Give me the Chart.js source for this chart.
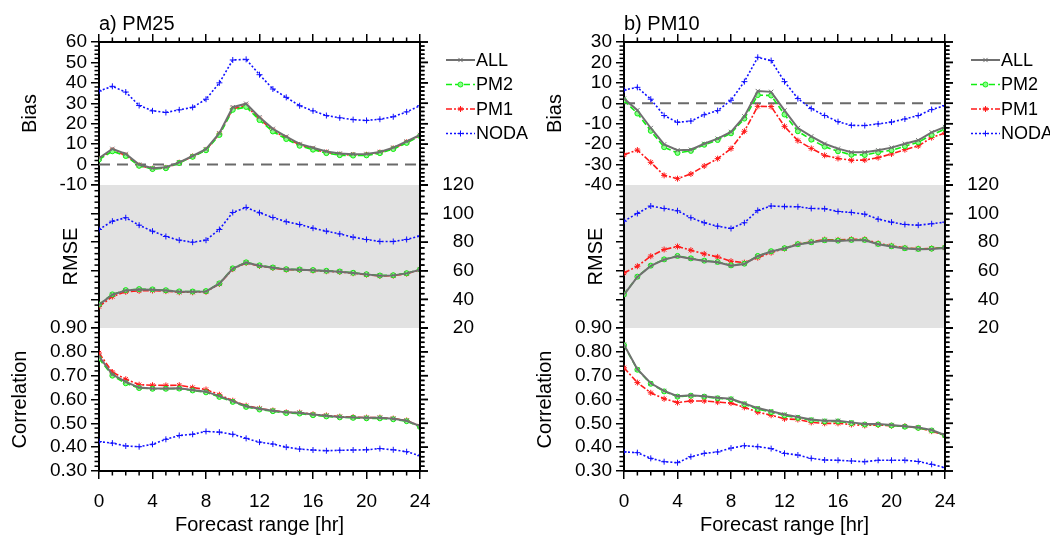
<!DOCTYPE html>
<html>
<head>
<meta charset="utf-8">
<script src="https://cdn.jsdelivr.net/npm/chart.js@4.4.0/dist/chart.umd.min.js"></script>
<style>
  html, body { margin: 0; padding: 0; background: #fff; }
  #wrap { position: relative; width: 1050px; height: 540px; overflow: hidden; }
  canvas { position: absolute; top: 0; }
  #pa, #paf { left: 0; }
  #pb, #pbf { left: 525px; }
  #paf, #pbf { z-index: 2; pointer-events: none; }
</style>
</head>
<body>
<div id="wrap">
  <canvas id="pa" width="540" height="540"></canvas>
  <canvas id="pb" width="525" height="540"></canvas>
  <canvas id="paf" width="540" height="540"></canvas>
  <canvas id="pbf" width="525" height="540"></canvas>
</div>
<script>
/* forecast hours */
const HOURS = [0, 1, 2, 3, 4, 5, 6, 7, 8, 9, 10, 11, 12, 13, 14, 15, 16, 17, 18, 19, 20, 21, 22, 23, 24];
const SERIES = ['ALL', 'PM2', 'PM1', 'NODA'];

/* a) PM25 */
const PM25_BIAS_ALL  = [3.1, 7.7, 5.2, 0.0, -1.8, -1.3, 1.1, 4.2, 7.5, 15.4, 28.1, 29.8, 23.2, 17.5, 13.7, 10.1, 8.2, 6.4, 5.4, 5.1, 5.2, 6.2, 8.3, 11.3, 14.5];
const PM25_BIAS_PM2  = [2.5, 6.5, 4.2, -0.6, -2.2, -1.8, 0.8, 3.8, 7.0, 14.5, 26.8, 28.2, 21.8, 16.2, 12.5, 9.2, 7.3, 5.6, 4.6, 4.4, 4.5, 5.6, 7.6, 10.6, 14.0];
const PM25_BIAS_PM1  = [2.8, 6.9, 4.5, -0.4, -2.0, -1.6, 0.9, 4.0, 7.2, 15.0, 27.3, 28.8, 22.4, 16.7, 13.0, 9.6, 7.6, 5.9, 4.9, 4.7, 4.8, 5.9, 7.9, 10.9, 14.3];
const PM25_BIAS_NODA = [36.0, 38.3, 35.5, 28.9, 26.3, 25.5, 26.8, 28.0, 32.0, 40.0, 51.2, 51.5, 44.0, 37.0, 32.9, 28.8, 26.3, 24.0, 22.9, 22.0, 21.6, 22.2, 23.4, 25.8, 28.8];

const PM25_RMSE_ALL  = [36.3, 43.3, 46.3, 47.0, 46.8, 46.3, 45.4, 45.4, 45.6, 51.0, 61.5, 65.7, 63.6, 62.2, 61.0, 60.8, 60.4, 59.9, 59.4, 58.5, 57.5, 56.6, 56.8, 58.2, 60.8];
const PM25_RMSE_PM2  = [36.5, 43.5, 46.5, 47.2, 47.0, 46.4, 45.6, 45.5, 45.8, 51.2, 61.7, 65.9, 63.8, 62.3, 61.1, 60.9, 60.5, 60.0, 59.5, 58.6, 57.6, 56.7, 56.9, 58.3, 60.9];
const PM25_RMSE_PM1  = [35.0, 42.0, 45.3, 46.0, 46.2, 45.8, 45.0, 45.0, 45.3, 50.8, 61.2, 65.5, 63.4, 62.0, 60.8, 60.6, 60.2, 59.7, 59.2, 58.3, 57.3, 56.4, 56.6, 58.0, 60.6];
const PM25_RMSE_NODA = [88.9, 94.7, 97.1, 91.9, 87.7, 84.0, 81.4, 80.0, 81.4, 88.9, 100.8, 104.3, 100.6, 97.3, 94.3, 92.4, 89.8, 87.7, 85.8, 83.5, 81.9, 80.5, 80.5, 81.9, 84.4];

const PM25_CORR_ALL  = [0.781, 0.705, 0.674, 0.650, 0.646, 0.646, 0.647, 0.640, 0.633, 0.614, 0.593, 0.572, 0.561, 0.553, 0.546, 0.544, 0.537, 0.532, 0.527, 0.525, 0.523, 0.523, 0.519, 0.511, 0.488];
const PM25_CORR_PM2  = [0.772, 0.700, 0.668, 0.648, 0.645, 0.645, 0.646, 0.638, 0.630, 0.611, 0.590, 0.569, 0.558, 0.551, 0.543, 0.541, 0.534, 0.529, 0.525, 0.523, 0.521, 0.521, 0.517, 0.509, 0.485];
const PM25_CORR_PM1  = [0.795, 0.715, 0.685, 0.662, 0.660, 0.659, 0.660, 0.650, 0.642, 0.620, 0.595, 0.574, 0.562, 0.554, 0.546, 0.545, 0.538, 0.533, 0.528, 0.526, 0.524, 0.524, 0.520, 0.512, 0.489];
const PM25_CORR_NODA = [0.423, 0.417, 0.405, 0.402, 0.412, 0.433, 0.449, 0.454, 0.466, 0.463, 0.454, 0.437, 0.421, 0.413, 0.400, 0.392, 0.388, 0.385, 0.387, 0.388, 0.389, 0.394, 0.389, 0.381, 0.364];

/* b) PM10 */
const PM10_BIAS_ALL  = [2.3, -3.4, -12.1, -20.1, -23.0, -22.7, -19.8, -17.3, -14.0, -6.4, 6.0, 5.6, -3.5, -12.1, -16.2, -19.8, -22.2, -24.0, -24.0, -23.0, -21.7, -19.8, -18.1, -14.2, -11.6];
const PM10_BIAS_PM2  = [1.5, -5.0, -13.5, -21.5, -24.3, -23.3, -20.3, -18.0, -14.7, -7.5, 4.0, 3.8, -5.5, -13.7, -17.8, -21.2, -23.5, -25.2, -25.3, -24.0, -23.0, -21.0, -19.1, -15.5, -12.6];
const PM10_BIAS_PM1  = [-25.2, -22.9, -28.9, -35.3, -36.9, -34.6, -30.7, -27.1, -22.2, -13.7, -1.5, -1.6, -11.3, -18.3, -22.1, -25.5, -27.0, -27.9, -27.8, -26.6, -24.8, -22.7, -20.9, -16.8, -14.5];
const PM10_BIAS_NODA = [6.5, 7.8, 2.0, -6.0, -9.3, -8.7, -5.6, -3.6, 1.5, 10.6, 22.5, 20.9, 10.6, 2.3, -2.6, -6.0, -9.0, -10.8, -10.9, -10.1, -9.2, -7.7, -6.0, -3.1, -1.1];

const PM10_RMSE_ALL  = [43.3, 55.7, 63.4, 67.8, 70.2, 68.5, 66.9, 66.0, 63.6, 64.8, 70.2, 73.5, 75.6, 78.4, 79.8, 81.2, 80.9, 81.4, 81.4, 78.6, 77.0, 75.6, 75.1, 75.3, 76.0];
const PM10_RMSE_PM2  = [43.5, 55.9, 63.6, 68.0, 70.4, 68.7, 67.1, 66.2, 63.8, 65.0, 70.4, 73.7, 75.8, 78.6, 80.0, 81.4, 81.1, 81.6, 81.6, 78.8, 77.2, 75.8, 75.3, 75.5, 76.2];
const PM10_RMSE_PM1  = [58.5, 63.2, 70.2, 74.9, 77.0, 74.4, 71.8, 69.7, 66.7, 65.7, 69.2, 72.7, 75.6, 78.8, 80.3, 81.8, 81.6, 82.0, 82.0, 79.2, 77.5, 76.0, 75.4, 75.6, 76.3];
const PM10_RMSE_NODA = [94.7, 100.1, 105.3, 103.6, 102.0, 97.1, 93.6, 91.2, 89.6, 93.6, 102.2, 105.3, 104.9, 104.8, 103.6, 103.4, 101.5, 100.8, 99.6, 96.1, 94.0, 92.4, 91.9, 92.9, 94.0];

const PM10_CORR_ALL  = [0.830, 0.727, 0.668, 0.636, 0.614, 0.618, 0.614, 0.607, 0.603, 0.583, 0.564, 0.551, 0.537, 0.527, 0.516, 0.511, 0.511, 0.504, 0.497, 0.497, 0.493, 0.488, 0.483, 0.472, 0.451];
const PM10_CORR_PM2  = [0.828, 0.725, 0.666, 0.634, 0.612, 0.616, 0.612, 0.605, 0.601, 0.580, 0.560, 0.547, 0.533, 0.523, 0.513, 0.508, 0.508, 0.501, 0.495, 0.495, 0.491, 0.486, 0.481, 0.470, 0.449];
const PM10_CORR_PM1  = [0.733, 0.671, 0.628, 0.603, 0.587, 0.594, 0.594, 0.589, 0.585, 0.567, 0.547, 0.534, 0.519, 0.516, 0.504, 0.500, 0.500, 0.495, 0.491, 0.493, 0.490, 0.488, 0.481, 0.467, 0.449];
const PM10_CORR_NODA = [0.380, 0.377, 0.353, 0.339, 0.335, 0.360, 0.374, 0.380, 0.396, 0.406, 0.402, 0.394, 0.374, 0.367, 0.353, 0.346, 0.345, 0.342, 0.339, 0.345, 0.345, 0.345, 0.340, 0.328, 0.314];

/* axis ticks */
const X_TICKS = [0, 4, 8, 12, 16, 20, 24];
const RMSE_TICKS = [20, 40, 60, 80, 100, 120];
const CORR_TICKS = [0.30, 0.40, 0.50, 0.60, 0.70, 0.80, 0.90];

/* look of the four runs, same order as SERIES */
const STYLES = [
  { color: '#707070', fill: '#707070', width: 2,   dash: [],           point: 'crossRot', r: 3 },
  { color: '#11ee11', fill: '#88ff88', width: 1.6, dash: [6, 3],       point: 'circle',   r: 2.5 },
  { color: '#ff1a1a', fill: '#ff1a1a', width: 1.6, dash: [6, 2, 2, 2], point: 'star',     r: 3 },
  { color: '#1010ff', fill: '#1010ff', width: 1.6, dash: [2, 2],       point: 'cross',    r: 3 }
];

const FONT = "'Liberation Sans', Arial, Helvetica, sans-serif";
const TICK_FONT = { family: FONT, size: 19 };
const TITLE_FONT = { family: FONT, size: 20 };
const L = 99, R = 420, T = 42, B = 471, H = 540, RLAB = 474;

function pts(vals) { return HOURS.map((h, i) => ({ x: h, y: vals[i] })); }

const gridOpts = { drawOnChartArea: false, color: '#000', lineWidth: 1.5, tickLength: 8 };
const borderOpts = { color: '#000', width: 2 };

// minor ticks per scale: step between ticks, and every how many a major one falls
const MINOR = {
  x: { step: 1, every: 4 }, x2: { step: 1, every: 4 },
  bias: { step: 2, every: 5 }, rmse: { step: 4, every: 5 }, corr: { step: 0.02, every: 5 }
};

// right side of the frame (border, major and minor ticks) on any 2d context,
// positions taken from the chart's own scales
function drawRightSide(ctx, chart) {
  const xr = chart.scales.x.right;
  const top = chart.scales.bias.top, bottom = chart.scales.corr.bottom;
  ctx.save();
  ctx.setLineDash([]);
  ctx.fillStyle = '#000';
  ctx.strokeStyle = '#000';
  ['bias', 'rmse', 'corr'].forEach(id => {
    const s = chart.scales[id], m = MINOR[id];
    const n = Math.round((s.max - s.min) / m.step);
    for (let i = 0; i <= n; i++) {
      const p = s.getPixelForValue(s.min + i * m.step);
      ctx.fillRect(xr, p - 0.75, i % m.every === 0 ? 8 : 4.5, 1.5);
    }
  });
  ctx.fillRect(xr - 1, top - 1, 2, bottom - top + 2);
  ctx.lineWidth = 2;
  ctx.beginPath(); ctx.moveTo(xr, top - 1); ctx.lineTo(xr, bottom + 1); ctx.stroke();
  ctx.restore();
}

// gray band behind the RMSE block
const bandPlugin = {
  id: 'band',
  beforeDraw(chart) {
    const y = chart.scales.rmse, xs = chart.scales.x, ctx = chart.ctx;
    ctx.save();
    ctx.fillStyle = '#e2e2e2';
    ctx.fillRect(xs.left, y.top, xs.right - xs.left, y.bottom - y.top);
    ctx.restore();
  }
};

// minor ticks on the left, top and bottom; RMSE labels on the right
const ticksPlugin = {
  id: 'ticks2',
  afterDraw(chart) {
    const ctx = chart.ctx;
    ctx.save();
    ctx.fillStyle = '#000';
    Object.keys(MINOR).forEach(id => {
      const s = chart.scales[id], m = MINOR[id];
      const n = Math.round((s.max - s.min) / m.step);
      for (let i = 0; i <= n; i++) {
        if (i % m.every === 0) continue;
        const p = s.getPixelForValue(s.min + i * m.step);
        if (s.position === 'left') ctx.fillRect(s.right - 4.5, p - 0.75, 4.5, 1.5);
        else if (s.position === 'top') ctx.fillRect(p - 0.75, s.bottom - 4.5, 1.5, 4.5);
        else ctx.fillRect(p - 0.75, s.top, 1.5, 4.5);
      }
    });
    const rm = chart.scales.rmse;
    ctx.font = TICK_FONT.size + 'px ' + FONT;
    ctx.textAlign = 'right';
    ctx.textBaseline = 'middle';
    RMSE_TICKS.forEach(v => ctx.fillText(String(v), RLAB, rm.getPixelForValue(v)));
    ctx.restore();
    drawRightSide(ctx, chart);
  }
};

// panel title and legend
const textPlugin = {
  id: 'texts',
  afterDraw(chart, args, opts) {
    const ctx = chart.ctx;
    ctx.save();
    ctx.fillStyle = '#000';
    ctx.font = '20px ' + FONT;
    ctx.textBaseline = 'alphabetic';
    ctx.textAlign = 'left';
    ctx.fillText(opts.title, L, 30);
    ctx.font = '18px ' + FONT;
    ctx.textBaseline = 'middle';
    SERIES.forEach((name, i) => {
      const st = STYLES[i], y = 60 + i * 24.5;
      ctx.strokeStyle = st.color;
      ctx.lineWidth = st.width;
      ctx.setLineDash(st.dash);
      ctx.beginPath(); ctx.moveTo(446, y); ctx.lineTo(475, y); ctx.stroke();
      ctx.setLineDash([]);
      ctx.lineWidth = 1;
      ctx.fillStyle = st.fill;
      Chart.helpers.drawPoint(ctx, { pointStyle: st.point, rotation: 0, radius: st.r, borderWidth: 1 }, 460.5, y);
      ctx.fillStyle = '#000';
      ctx.fillText(name, 476, y + 1);
    });
    ctx.restore();
  }
};

function yScale(weight, min, max, step, extra) {
  const base = {
    type: 'linear', position: 'left', stack: 'v', stackWeight: 1, weight: weight,
    min: min, max: max,
    ticks: { stepSize: step, font: TICK_FONT, color: '#000', padding: 4, autoSkip: false },
    grid: gridOpts, border: borderOpts,
    afterFit: s => { s.width = L; }
  };
  if (extra.ticks) { base.ticks = Object.assign({}, base.ticks, extra.ticks); delete extra.ticks; }
  return Object.assign(base, extra);
}

function makePanel(canvasId, title, width, bias, rmse, corr, biasMin, biasMax) {
  const sets = [];
  SERIES.forEach((name, s) => {
    const st = STYLES[s];
    [['bias', bias[s]], ['rmse', rmse[s]], ['corr', corr[s]]].forEach(([axis, vals]) => {
      sets.push({
        label: name, yAxisID: axis, xAxisID: 'x', data: pts(vals),
        borderColor: st.color, backgroundColor: st.fill, borderWidth: st.width, borderDash: st.dash,
        pointStyle: st.point, pointRadius: st.r, pointBorderWidth: 1,
        pointBorderColor: st.color, pointBackgroundColor: st.fill, tension: 0
      });
    });
  });
  // dashed zero line of the bias block
  sets.push({
    label: 'zero', yAxisID: 'bias', xAxisID: 'x', data: [{ x: 0, y: 0 }, { x: 24, y: 0 }],
    borderColor: '#6a6a6a', borderWidth: 2, borderDash: [11, 7], pointRadius: 0
  });

  return new Chart(document.getElementById(canvasId), {
    type: 'line',
    data: { datasets: sets },
    options: {
      responsive: false,
      animation: false,
      layout: { padding: { right: width - R } },
      plugins: { legend: { display: false }, tooltip: { enabled: false }, texts: { title: title } },
      scales: {
        x: {
          type: 'linear', position: 'bottom', min: 0, max: 24,
          ticks: { stepSize: 4, font: TICK_FONT, color: '#000', padding: 11, maxRotation: 0, autoSkip: false },
          afterBuildTicks: s => { s.ticks = X_TICKS.map(v => ({ value: v })); },
          grid: gridOpts, border: borderOpts,
          title: { display: true, text: 'Forecast range [hr]', font: TITLE_FONT, color: '#000', padding: { bottom: 3 } },
          afterFit: s => { s.height = H - B; }
        },
        x2: {
          type: 'linear', position: 'top', min: 0, max: 24,
          ticks: { stepSize: 4, display: false },
          afterBuildTicks: s => { s.ticks = X_TICKS.map(v => ({ value: v })); },
          grid: gridOpts, border: borderOpts,
          afterFit: s => { s.height = T; }
        },
        bias: yScale(3, biasMin, biasMax, 10, {
          title: { display: true, text: 'Bias', font: TITLE_FONT, color: '#000', padding: { top: 18 } }
        }),
        rmse: yScale(2, 20, 120, 20, {
          ticks: { callback: () => '' },
          afterBuildTicks: s => { s.ticks = RMSE_TICKS.map(v => ({ value: v })); },
          title: { display: true, text: 'RMSE', font: TITLE_FONT, color: '#000', padding: { top: 59 } }
        }),
        corr: yScale(1, 0.3, 0.9, 0.1, {
          ticks: { callback: v => v.toFixed(2) },
          afterBuildTicks: s => { s.ticks = CORR_TICKS.map(v => ({ value: v })); },
          title: { display: true, text: 'Correlation', font: TITLE_FONT, color: '#000', padding: { top: 8 } }
        })
      }
    },
    plugins: [bandPlugin, ticksPlugin, textPlugin]
  });
}

const chartA = makePanel('pa', 'a) PM25', 540,
  [PM25_BIAS_ALL, PM25_BIAS_PM2, PM25_BIAS_PM1, PM25_BIAS_NODA],
  [PM25_RMSE_ALL, PM25_RMSE_PM2, PM25_RMSE_PM1, PM25_RMSE_NODA],
  [PM25_CORR_ALL, PM25_CORR_PM2, PM25_CORR_PM1, PM25_CORR_NODA], -10, 60);

const chartB = makePanel('pb', 'b) PM10', 525,
  [PM10_BIAS_ALL, PM10_BIAS_PM2, PM10_BIAS_PM1, PM10_BIAS_NODA],
  [PM10_RMSE_ALL, PM10_RMSE_PM2, PM10_RMSE_PM1, PM10_RMSE_NODA],
  [PM10_CORR_ALL, PM10_CORR_PM2, PM10_CORR_PM1, PM10_CORR_NODA], -40, 30);

// right frame side again on a plain overlay canvas above each chart
drawRightSide(document.getElementById('paf').getContext('2d'), chartA);
drawRightSide(document.getElementById('pbf').getContext('2d'), chartB);
</script>
</body>
</html>
